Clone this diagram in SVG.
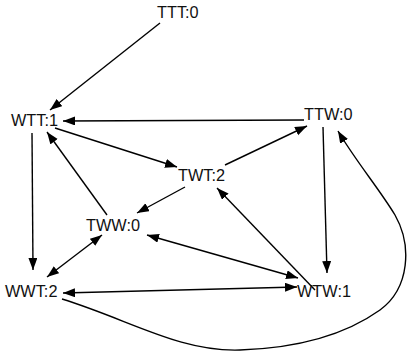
<svg xmlns="http://www.w3.org/2000/svg" width="409" height="353" viewBox="0 0 409 353">
<style>
.lbl{font-family:"Liberation Sans",Arial,sans-serif;font-size:16.3px;fill:#111}
.e{stroke:#000;stroke-width:1.4;fill:none;marker-end:url(#ah)}
.d{marker-start:url(#ahs)}
</style>
<defs>
<marker id="ah" markerUnits="userSpaceOnUse" markerWidth="13" markerHeight="10" refX="12" refY="4.5" orient="auto"><path d="M0,0 L12,4.5 L0,9 z" fill="#000"/></marker>
<marker id="ahs" markerUnits="userSpaceOnUse" markerWidth="13" markerHeight="10" refX="12" refY="4.5" orient="auto-start-reverse"><path d="M0,0 L12,4.5 L0,9 z" fill="#000"/></marker>
</defs>
<rect width="409" height="353" fill="#fff"/>
<g id="connectors">
<line class="e" x1="160" y1="23" x2="50" y2="110"/>
<line class="e" x1="304" y1="120" x2="63" y2="121"/>
<line class="e" x1="55" y1="128" x2="177" y2="167"/>
<line class="e" x1="225" y1="165" x2="307" y2="126"/>
<line class="e" x1="323" y1="127" x2="327" y2="273"/>
<path class="e" d="M62,299 C130,320 180,352 240,350 C300,348 345,335 380,310 C410,288 412,245 395,215 C380,190 355,160 338,131"/>
<line class="e" x1="32" y1="133" x2="33" y2="270"/>
<line class="e" x1="107" y1="215" x2="47" y2="132"/>
<line class="e" x1="185" y1="187" x2="137" y2="213"/>
<line class="e d" x1="102" y1="235" x2="47" y2="277"/>
<line class="e d" x1="147" y1="235" x2="298" y2="278"/>
<line class="e" x1="315" y1="290" x2="217" y2="188"/>
<line class="e d" x1="63" y1="293" x2="297" y2="287"/>
</g>
<g id="TTT0"><text class="lbl" x="157" y="18">TTT:0</text></g>
<g id="WTT1"><text class="lbl" x="11" y="126">WTT:1</text></g>
<g id="TTW0"><text class="lbl" x="304" y="120">TTW:0</text></g>
<g id="TWT2"><text class="lbl" x="178" y="181">TWT:2</text></g>
<g id="TWW0"><text class="lbl" x="86" y="231">TWW:0</text></g>
<g id="WWT2"><text class="lbl" x="5" y="297">WWT:2</text></g>
<g id="WTW1"><text class="lbl" x="297" y="297">WTW:1</text></g>
</svg>
